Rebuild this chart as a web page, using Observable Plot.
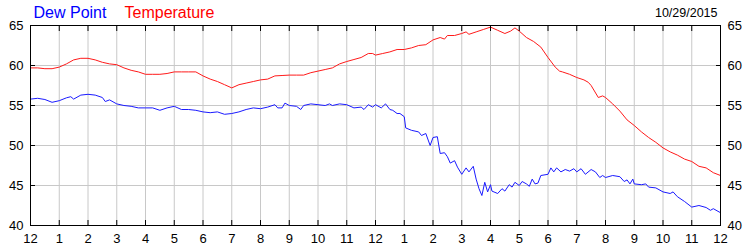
<!DOCTYPE html>
<html>
<head>
<meta charset="utf-8">
<script src="https://cdn.jsdelivr.net/npm/d3@7"></script>
<script src="https://cdn.jsdelivr.net/npm/@observablehq/plot@0.6"></script>
<style>
  html, body { margin: 0; padding: 0; background: #fff; }
  svg { display: block; }
</style>
</head>
<body>
<div id="chart"></div>
<script>
// Hours since midnight (0–24) and readings (°F)
const tempHours = [0,0.25,0.5,0.75,1,1.25,1.5,1.75,2,2.25,2.5,2.75,3,3.25,3.5,3.75,4,4.25,4.5,4.75,5,5.25,5.5,5.75,6,6.25,6.5,6.75,7,7.25,7.5,7.75,8,8.25,8.5,8.75,9,9.25,9.5,9.75,10,10.25,10.5,10.75,11,11.25,11.5,11.75,11.9,12,12.25,12.5,12.75,13,13.25,13.5,13.75,14,14.25,14.4,14.5,14.75,15,15.15,15.25,15.5,15.75,16,16.25,16.5,16.7,16.85,17,17.25,17.5,17.75,18,18.25,18.4,18.5,18.75,19,19.25,19.4,19.5,19.75,19.9,20,20.25,20.5,20.75,21,21.25,21.5,21.75,22,22.25,22.5,22.75,23,23.25,23.5,23.75,24];
const tempValues = [59.7,59.7,59.6,59.6,59.8,60.2,60.7,60.9,60.9,60.7,60.4,60.2,60.1,59.7,59.4,59.2,58.9,58.9,58.9,59.0,59.2,59.2,59.2,59.2,58.7,58.3,58.0,57.6,57.2,57.6,57.8,58.0,58.2,58.3,58.7,58.75,58.8,58.8,58.8,59.1,59.3,59.5,59.7,60.2,60.5,60.75,61.0,61.5,61.5,61.3,61.5,61.7,62.0,62.0,62.2,62.5,62.6,63.2,63.5,63.3,63.75,63.75,64.0,64.2,63.9,64.2,64.5,64.8,64.4,64.0,64.3,64.7,64.3,63.5,63.0,62.3,61.0,59.8,59.3,59.2,58.9,58.5,58.2,57.9,57.5,56.0,56.2,56.0,55.2,54.3,53.2,52.5,51.7,51.0,50.4,49.7,49.2,48.8,48.3,48.0,47.4,47.2,46.6,46.25];

const dewHours = [0,0.25,0.5,0.75,1,1.25,1.4,1.5,1.75,2,2.25,2.5,2.6,2.75,3,3.25,3.5,3.75,4,4.25,4.5,4.75,5,5.25,5.5,5.75,6,6.25,6.5,6.75,7,7.25,7.5,7.75,8,8.25,8.5,8.6,8.75,8.85,9,9.25,9.4,9.5,9.75,10,10.25,10.4,10.5,10.75,11,11.25,11.5,11.6,11.75,11.9,12,12.2,12.35,12.5,12.6,12.75,12.85,13,13.05,13.25,13.5,13.6,13.75,13.9,14,14.15,14.25,14.4,14.5,14.6,14.75,14.85,15,15.15,15.25,15.4,15.5,15.6,15.7,15.8,15.9,16,16.05,16.25,16.4,16.5,16.65,16.75,16.85,17,17.1,17.25,17.35,17.45,17.55,17.65,17.75,18,18.1,18.2,18.3,18.45,18.6,18.75,18.9,19,19.15,19.3,19.5,19.65,19.8,19.9,20,20.25,20.5,20.65,20.75,20.85,20.95,21,21.25,21.4,21.5,21.75,22,22.25,22.35,22.5,22.75,23,23.25,23.5,23.65,23.75,24];
const dewValues = [55.8,55.9,55.75,55.4,55.6,55.96,56.1,55.8,56.3,56.4,56.3,56.0,55.5,55.7,55.2,55.0,54.9,54.7,54.7,54.7,54.4,54.7,54.9,54.5,54.5,54.4,54.2,54.1,54.2,53.9,54.0,54.2,54.5,54.7,54.6,54.8,55.1,54.7,54.7,55.3,55.0,54.9,54.5,55.0,55.2,55.1,55.0,55.2,55.0,55.2,55.1,54.7,54.8,54.5,55.1,54.8,55.1,54.7,55.2,54.5,54.4,54.0,54.0,53.6,52.2,51.9,51.7,51.25,51.5,50.0,51.0,51.1,49.0,49.1,48.6,47.8,48.1,47.3,46.4,47.2,46.7,47.4,45.8,44.6,43.75,45.4,44.2,45.1,44.3,44.0,44.6,44.3,45.1,44.8,45.4,45.0,45.5,45.2,44.9,45.8,45.2,45.3,46.25,46.4,47.2,46.7,47.2,46.7,47.0,46.8,47.1,46.7,47.1,46.4,47.0,46.7,46.0,46.25,46.0,46.25,46.1,45.5,45.7,45.2,45.8,45.2,45.1,45.2,44.8,44.7,44.2,44.0,44.2,43.6,43.0,42.3,42.5,42.25,41.9,42.1,41.6];

const hourTicks = d3.range(0, 25);
const hourLabels = hourTicks.map(h => String(h % 12 === 0 ? 12 : h % 12));
const yTicks = [40, 45, 50, 55, 60, 65];
const seriesNames = ["Dew Point", "Temperature"];
const dateLabel = "10/29/2015";

const temp = tempHours.map((h, i) => ({h, v: tempValues[i]}));
const dew = dewHours.map((h, i) => ({h, v: dewValues[i]}));

const font = "'Liberation Sans', Arial, sans-serif";
const fmtHour = h => hourLabels[hourTicks.indexOf(h)];

const chart = Plot.plot({
  width: 750,
  height: 250,
  marginLeft: 30,
  marginRight: 30,
  marginTop: 25,
  marginBottom: 25,
  style: {fontFamily: font, fontSize: "13px", color: "#000", background: "#fff"},
  x: {domain: [0, 24], label: null},
  y: {domain: [40, 65], label: null},
  marks: [
    Plot.gridX(hourTicks.slice(1, -1), {stroke: "#c8c8c8", strokeOpacity: 1}),
    Plot.gridY(yTicks.slice(1, -1), {stroke: "#c8c8c8", strokeOpacity: 1}),
    Plot.line(dew, {x: "h", y: "v", stroke: "#1a1aff", strokeWidth: 1}),
    Plot.line(temp, {x: "h", y: "v", stroke: "#ff1a1a", strokeWidth: 1}),
    Plot.frame({stroke: "#000", strokeWidth: 1}),
    Plot.axisX(hourTicks, {anchor: "bottom", tickSize: -5, text: null, label: null, stroke: "#000"}),
    Plot.axisX(hourTicks, {anchor: "top", tickSize: -5, text: null, label: null, stroke: "#000"}),
    Plot.axisX(hourTicks, {anchor: "bottom", tickSize: 0, tickPadding: 8, tickFormat: fmtHour, label: null, fill: "#000"}),
    Plot.axisY(yTicks, {anchor: "left", tickSize: -5, text: null, label: null, stroke: "#000"}),
    Plot.axisY(yTicks, {anchor: "right", tickSize: -5, text: null, label: null, stroke: "#000"}),
    Plot.axisY(yTicks, {anchor: "left", tickSize: 0, tickPadding: 7, label: null, fill: "#000"}),
    Plot.axisY(yTicks, {anchor: "right", tickSize: 0, tickPadding: 7, label: null, fill: "#000"}),
    Plot.text([seriesNames[0]], {frameAnchor: "top-left", dx: 3, dy: -7.5, lineAnchor: "bottom", textAnchor: "start", fill: "#0000ff", fontSize: 16}),
    Plot.text([seriesNames[1]], {frameAnchor: "top-left", dx: 94, dy: -7.5, lineAnchor: "bottom", textAnchor: "start", fill: "#ff0000", fontSize: 16}),
    Plot.text([dateLabel], {frameAnchor: "top-right", dx: -3, dy: -8.3, lineAnchor: "bottom", textAnchor: "end", fill: "#000", fontSize: 12.5})
  ]
});
document.getElementById("chart").appendChild(chart);
</script>
</body>
</html>
